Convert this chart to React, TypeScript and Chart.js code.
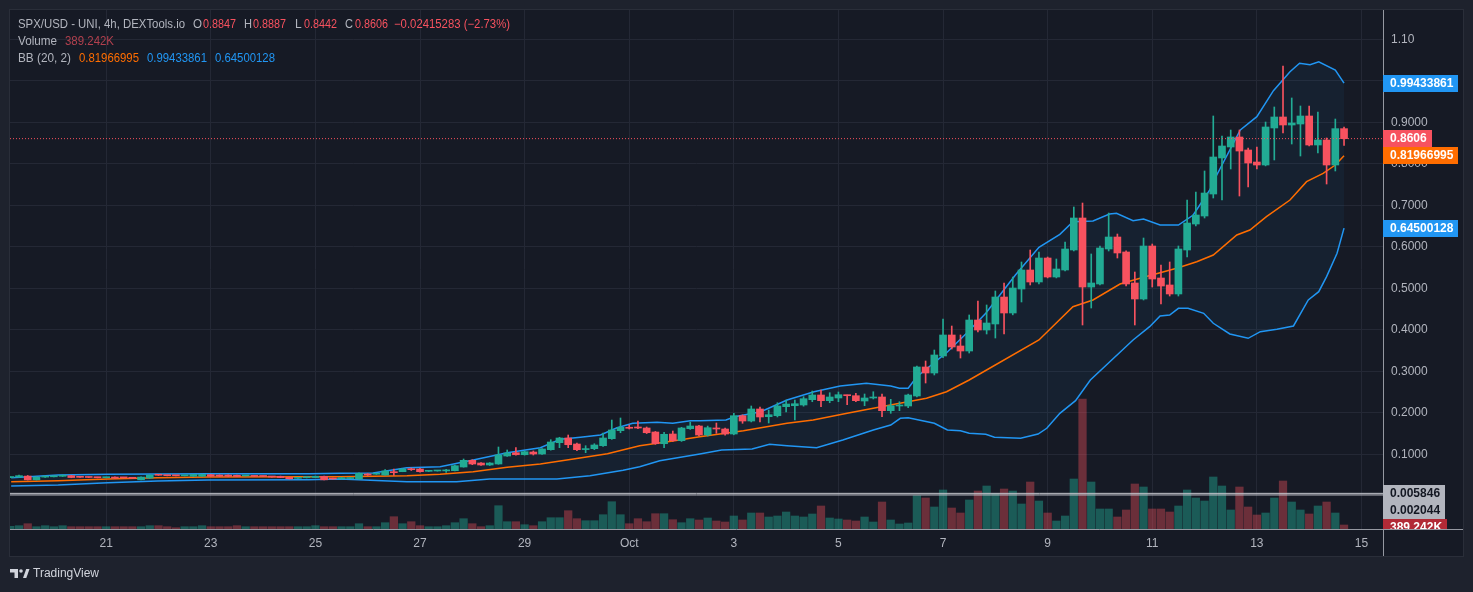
import React, { useEffect, useRef } from 'react';
import Chart from 'chart.js/auto';

// ---------- data ----------
const candleOpen = [
  0.0440,0.0453,0.0475,0.0385,0.0450,0.0458,0.0470,0.0485,0.0450,0.0447,
  0.0442,0.0436,0.0452,0.0438,0.0430,0.0385,0.0425,0.0500,0.0490,0.0488,
  0.0482,0.0470,0.0470,0.0510,0.0500,0.0500,0.0495,0.0480,0.0475,0.0472,
  0.0460,0.0470,0.0445,0.0422,0.0435,0.0440,0.0470,0.0420,0.0410,0.0415,
  0.0405,0.0525,0.0520,0.0501,0.0573,0.0581,0.0653,0.0646,0.0590,0.0598,
  0.0600,0.0605,0.0694,0.0855,0.0790,0.0742,0.0766,0.0959,0.1039,0.0990,
  0.1055,0.1007,0.1111,0.1280,0.1393,0.1248,0.1113,0.1135,0.1207,0.1376,
  0.1569,0.1650,0.1658,0.1634,0.1537,0.1255,0.1489,0.1328,0.1617,0.1682,
  0.1465,0.1617,0.1610,0.1489,0.1930,0.1802,0.2092,0.1906,0.1930,0.2147,
  0.2171,0.2188,0.2316,0.2429,0.2292,0.2357,0.2429,0.2412,0.2284,0.2357,
  0.2381,0.2051,0.2164,0.2164,0.2405,0.3104,0.2959,0.3369,0.3875,0.3610,
  0.3489,0.4236,0.3995,0.4140,0.4790,0.4405,0.4983,0.5441,0.5152,0.5730,
  0.5272,0.5441,0.5923,0.6694,0.5031,0.5104,0.5947,0.6236,0.5875,0.5128,
  0.4742,0.6019,0.5248,0.5080,0.4863,0.5923,0.6549,0.6742,0.7272,0.8140,
  0.8405,0.8646,0.8333,0.8043,0.7971,0.8863,0.9128,0.8935,0.8959,0.9152,
  0.8453,0.8573,0.7971,0.8847,
];
const candleHigh = [
  0.0460,0.0500,0.0490,0.0455,0.0475,0.0480,0.0505,0.0490,0.0455,0.0452,
  0.0448,0.0450,0.0460,0.0442,0.0435,0.0455,0.0505,0.0505,0.0495,0.0492,
  0.0492,0.0520,0.0525,0.0515,0.0505,0.0505,0.0500,0.0492,0.0480,0.0476,
  0.0464,0.0475,0.0450,0.0436,0.0460,0.0476,0.0475,0.0425,0.0440,0.0432,
  0.0555,0.0535,0.0530,0.0630,0.0646,0.0653,0.0670,0.0660,0.0605,0.0612,
  0.0637,0.0740,0.0887,0.0870,0.0800,0.0800,0.1176,0.1104,0.1159,0.1080,
  0.1080,0.1140,0.1352,0.1410,0.1465,0.1272,0.1207,0.1255,0.1513,0.1826,
  0.1875,0.1706,0.1802,0.1658,0.1550,0.1530,0.1561,0.1650,0.1778,0.1700,
  0.1680,0.1754,0.1630,0.1988,0.1950,0.2164,0.2140,0.2067,0.2243,0.2308,
  0.2308,0.2388,0.2525,0.2549,0.2484,0.2501,0.2429,0.2470,0.2453,0.2508,
  0.2453,0.2325,0.2267,0.2450,0.3128,0.3248,0.3513,0.4260,0.4091,0.3875,
  0.4357,0.4694,0.4598,0.4935,0.5128,0.5272,0.5634,0.5923,0.5875,0.5754,
  0.5706,0.6116,0.6959,0.7055,0.5827,0.6019,0.6814,0.6308,0.5900,0.5393,
  0.6212,0.6067,0.5561,0.5634,0.6019,0.7128,0.7320,0.7827,0.9152,0.8670,
  0.8814,0.8814,0.8380,0.8405,0.9007,0.9369,1.0357,0.9586,0.9393,0.9393,
  0.9248,0.8622,0.9079,0.8887,
];
const candleLow = [
  0.0435,0.0450,0.0380,0.0380,0.0445,0.0455,0.0465,0.0435,0.0440,0.0438,
  0.0432,0.0432,0.0420,0.0428,0.0418,0.0380,0.0420,0.0490,0.0480,0.0478,
  0.0478,0.0468,0.0468,0.0468,0.0465,0.0465,0.0460,0.0476,0.0465,0.0462,
  0.0450,0.0436,0.0405,0.0418,0.0430,0.0436,0.0380,0.0400,0.0405,0.0412,
  0.0400,0.0490,0.0515,0.0500,0.0494,0.0580,0.0610,0.0570,0.0585,0.0594,
  0.0565,0.0600,0.0690,0.0750,0.0730,0.0730,0.0760,0.0950,0.0980,0.0980,
  0.0983,0.1000,0.1100,0.1159,0.1159,0.1087,0.1039,0.1111,0.1190,0.1360,
  0.1520,0.1610,0.1620,0.1500,0.1240,0.1159,0.1310,0.1310,0.1600,0.1440,
  0.1440,0.1506,0.1460,0.1470,0.1747,0.1780,0.1778,0.1754,0.1900,0.2019,
  0.1826,0.2160,0.2267,0.2147,0.2243,0.2267,0.2195,0.2267,0.2171,0.2333,
  0.1906,0.1988,0.2051,0.2123,0.2380,0.2718,0.2911,0.3330,0.3537,0.3320,
  0.3441,0.3950,0.3899,0.3802,0.3899,0.4360,0.4670,0.5080,0.5104,0.5250,
  0.5250,0.5420,0.5900,0.4116,0.4525,0.5080,0.5899,0.5730,0.5060,0.4116,
  0.4718,0.5031,0.4622,0.4814,0.4814,0.5754,0.6501,0.6694,0.7176,0.7128,
  0.7875,0.7224,0.7441,0.7875,0.7950,0.8092,0.8742,0.8477,0.8188,0.8429,
  0.8260,0.7513,0.7827,0.8442,
];
const candleClose = [
  0.0453,0.0485,0.0385,0.0450,0.0458,0.0470,0.0485,0.0440,0.0445,0.0442,
  0.0436,0.0442,0.0425,0.0432,0.0422,0.0450,0.0500,0.0495,0.0485,0.0482,
  0.0488,0.0515,0.0515,0.0470,0.0470,0.0470,0.0465,0.0487,0.0468,0.0466,
  0.0453,0.0440,0.0410,0.0430,0.0455,0.0470,0.0385,0.0405,0.0436,0.0425,
  0.0542,0.0501,0.0525,0.0598,0.0557,0.0646,0.0629,0.0581,0.0600,0.0608,
  0.0610,0.0725,0.0855,0.0766,0.0742,0.0790,0.0983,0.1031,0.0990,0.1063,
  0.1007,0.1128,0.1296,0.1393,0.1231,0.1111,0.1120,0.1224,0.1393,0.1586,
  0.1650,0.1627,0.1634,0.1520,0.1255,0.1482,0.1328,0.1634,0.1682,0.1465,
  0.1641,0.1610,0.1489,0.1930,0.1802,0.2092,0.1899,0.1954,0.2164,0.2212,
  0.2219,0.2340,0.2429,0.2292,0.2381,0.2436,0.2412,0.2292,0.2357,0.2381,
  0.2051,0.2171,0.2188,0.2429,0.3104,0.2959,0.3393,0.3875,0.3586,0.3489,
  0.4236,0.3995,0.4164,0.4790,0.4405,0.5007,0.5441,0.5152,0.5730,0.5272,
  0.5465,0.5947,0.6694,0.5031,0.5128,0.5971,0.6236,0.5851,0.5104,0.4742,
  0.6019,0.5224,0.5055,0.4863,0.5947,0.6573,0.6766,0.7296,0.8164,0.8429,
  0.8646,0.8308,0.8019,0.7971,0.8887,0.9128,0.8935,0.8983,0.9152,0.8453,
  0.8573,0.7971,0.8847,0.8606,
];
// volume in thousands
const volumeK = [
  263,321,516,224,321,224,321,224,224,224,
  224,224,224,224,224,224,321,321,224,126,
  224,224,321,224,224,224,321,224,224,224,
  224,224,224,224,224,321,224,224,224,224,
  516,224,224,613,1197,516,710,321,224,224,
  321,613,1002,516,224,321,2267,710,710,418,
  321,710,1099,1099,1781,1002,808,808,1391,2656,
  1391,516,1002,710,1489,1489,905,613,1002,876,
  1070,778,681,1265,876,1557,1557,1168,1265,1654,
  1265,1168,1460,2238,1070,973,876,778,1168,681,
  2627,876,487,584,3240,3016,2141,3795,2043,1557,
  2822,3697,4184,3474,3892,3697,2433,4573,2724,1557,
  778,1265,4865,12649,4573,1946,1946,1168,1849,4379,
  4087,1946,1946,1654,2238,3795,3016,2724,5060,4184,
  1849,4087,2141,1362,1557,3016,4670,2627,1849,1460,
  2238,2627,1557,389.242,
];
// Bollinger bands (20, 2) read as vertices: x in candle index
const bbUpperX = [0.1,5.5,11.2,22.7,34.2,37.8,41.6,45.5,49.3,53.1,57,60.8,63.1,65.4,67.7,69.6,71.4,74.2,76,78,79.1,82.1,83.1,86.1,89.1,92.2,95.2,98.2,101,102,103,104,105.9,107.4,108.9,109.7,111.9,115.3,118,120.4,121.9,124.2,126.1,126.9,128.8,130,131.9,134,135.7,137.6,138.4,141.1,143,144.9,146.8,147.9,149.1,150.1,152,153];
const bbUpperY = [0.0436,0.0501,0.0518,0.0533,0.0533,0.0542,0.055,0.0677,0.0701,0.0863,0.1039,0.1159,0.1361,0.141,0.1465,0.1641,0.1747,0.1771,0.1747,0.181,0.181,0.1827,0.1906,0.2027,0.2308,0.2508,0.2646,0.2711,0.2646,0.259,0.259,0.287,0.3193,0.3448,0.3754,0.3916,0.4398,0.532,0.5988,0.6301,0.6605,0.6622,0.679,0.6807,0.6629,0.667,0.6525,0.6525,0.6766,0.7369,0.773,0.8814,0.9135,0.9761,1.0219,1.0422,1.0388,1.046,1.026,0.99433861];
const bbMidX = [0.1,5.5,11.2,16.9,22.7,34.2,37.8,45.5,49.3,53.1,57,60.8,64.6,68.5,72.2,76,79.1,84.1,89.1,92.1,96,99.9,105.1,107.4,110,118,121.9,124.2,127.3,130,133.8,136.1,138,140.7,142.2,144.1,146.8,148.7,150.6,152,153];
const bbMidY = [0.034,0.0364,0.0405,0.0436,0.0453,0.046,0.046,0.0484,0.0518,0.0581,0.0687,0.0766,0.0887,0.1014,0.1207,0.132,0.1424,0.1569,0.1747,0.1827,0.1988,0.2147,0.2349,0.2508,0.279,0.3754,0.4557,0.4718,0.5104,0.5265,0.5482,0.5641,0.5802,0.6284,0.6405,0.6725,0.7128,0.7569,0.7771,0.7971,0.81966995];
const bbLowX = [0.1,5.5,11.2,16.9,22.7,34.2,37.8,45.5,51.2,55,62.7,66.5,70.3,72.2,74.5,79.1,81.6,85.1,87.1,89.1,92.5,95.5,99,101,102.1,103,106,107.5,109,110,111.9,112.9,115.9,117.9,118.9,120.4,122.2,123.9,128.8,130.7,131.9,133,134,135.1,136.9,138,139.9,142,143.4,145.3,147.2,148.9,150.1,151,152.2,153];
const bbLowY = [0.0236,0.026,0.0316,0.0357,0.0381,0.0388,0.0405,0.034,0.034,0.0405,0.0405,0.0484,0.0614,0.0701,0.0846,0.1007,0.1104,0.1128,0.1241,0.1207,0.1159,0.1345,0.1586,0.1706,0.1867,0.1882,0.1747,0.1586,0.1569,0.1506,0.1482,0.141,0.1386,0.1489,0.1627,0.1988,0.2292,0.279,0.3754,0.4075,0.4333,0.4357,0.4518,0.4518,0.4398,0.4157,0.3899,0.3795,0.3954,0.4012,0.4092,0.4718,0.4918,0.528,0.5843,0.64500128];

const xTickIndex = [11, 23, 35, 47, 59, 71, 83, 95, 107, 119, 131, 143, 155];
const xTickLabels = ['21', '23', '25', '27', '29', 'Oct', '3', '5', '7', '9', '11', '13', '15'];
const yTickValues = [0.1, 0.2, 0.3, 0.4, 0.5, 0.6, 0.7, 0.8, 0.9, 1.0, 1.1];
const yTickLabels = ['0.1000', '0.2000', '0.3000', '0.4000', '0.5000', '0.6000', '0.7000', '0.8000', '0.9000', '1.0000', '1.10'];
const hLinePrices = [0.005846, 0.002044];
const hLineLabels = ['0.005846', '0.002044'];
const lastVolumeLabel = '389.242K';
const headerTitle = 'SPX/USD - UNI, 4h, DEXTools.io';
const headerChange = '\u22120.02415283 (\u22122.73%)';
const bbTitle = 'BB (20, 2)';

// ---------- layout / style ----------
const W = 1473, H = 592;
const X_MIN = -0.034, X_MAX = 157.47;
const Y_MIN = -0.08, Y_MAX = 1.1706;
const VOL_MAX = 50500;
const FONT = '"Liberation Sans", Arial, sans-serif';
const OUTER_BG = '#1e222d';
const PANE_BG = '#161a25';
const FRAME = '#2a2e39';
const GRID = '#242835';
const TEXT = '#b2b5be';
const UP = '#22ab94';
const DOWN = '#f7525f';
const VOL_UP = 'rgba(34,171,148,0.45)';
const VOL_DOWN = 'rgba(247,82,95,0.38)';
const BLUE = '#2196f3';
const ORANGE = '#ff6d00';

function labelBox(ctx: CanvasRenderingContext2D, text: string, cy: number, bg: string, fg: string) {
  ctx.font = `bold 12px ${FONT}`;
  const w = ctx.measureText(text).width;
  const h = 17;
  ctx.fillStyle = bg;
  ctx.fillRect(1383, Math.round(cy - h / 2), Math.round(w + 12), h);
  ctx.fillStyle = fg;
  ctx.textAlign = 'left';
  ctx.textBaseline = 'middle';
  ctx.fillText(text, 1390, Math.round(cy - h / 2) + h / 2 + 0.5);
}

// draws text squeezed horizontally so it spans at most maxW pixels
function fitText(ctx: CanvasRenderingContext2D, text: string, x: number, y: number, maxW: number, color: string) {
  const w = ctx.measureText(text).width;
  const s = Math.min(1, maxW / w);
  ctx.save();
  ctx.translate(x, y);
  ctx.scale(s, 1);
  ctx.fillStyle = color;
  ctx.fillText(text, 0, 0);
  ctx.restore();
}

const decor = {
  id: 'decor',
  beforeDraw(chart: any) {
    const ctx: CanvasRenderingContext2D = chart.ctx;
    ctx.save();
    ctx.fillStyle = OUTER_BG;
    ctx.fillRect(0, 0, W, H);
    ctx.fillStyle = PANE_BG;
    ctx.fillRect(10, 10, 1453, 546);
    ctx.strokeStyle = FRAME;
    ctx.lineWidth = 1;
    ctx.strokeRect(9.5, 9.5, 1454, 547);
    ctx.restore();
  },
  afterDraw(chart: any) {
    const ctx: CanvasRenderingContext2D = chart.ctx;
    const ys = chart.scales.y;
    const yv = chart.scales.yv;
    const n = candleClose.length;
    ctx.save();
    // axis borders
    ctx.strokeStyle = '#9598a1';
    ctx.lineWidth = 1;
    ctx.beginPath();
    ctx.moveTo(1383.5, 10);
    ctx.lineTo(1383.5, 556);
    ctx.moveTo(10, 529.5);
    ctx.lineTo(1463, 529.5);
    ctx.stroke();

    // price labels
    labelBox(ctx, bbUpperY[bbUpperY.length - 1].toFixed(8), ys.getPixelForValue(bbUpperY[bbUpperY.length - 1]), BLUE, '#ffffff');
    const lastUp = candleClose[n - 1] >= candleOpen[n - 1];
    labelBox(ctx, candleClose[n - 1].toFixed(4), ys.getPixelForValue(candleClose[n - 1]), lastUp ? UP : DOWN, '#ffffff');
    labelBox(ctx, bbMidY[bbMidY.length - 1].toFixed(8), ys.getPixelForValue(bbMidY[bbMidY.length - 1]), ORANGE, '#ffffff');
    labelBox(ctx, bbLowY[bbLowY.length - 1].toFixed(8), ys.getPixelForValue(bbLowY[bbLowY.length - 1]), BLUE, '#ffffff');
    let prev = -100;
    hLinePrices.forEach((p, k) => {
      let cy = ys.getPixelForValue(p);
      if (cy < prev + 17) cy = prev + 17;
      labelBox(ctx, hLineLabels[k], cy, '#b2b5be', '#131722');
      prev = cy;
    });
    ctx.save();
    ctx.beginPath();
    ctx.rect(1383, 10, 90, 519);
    ctx.clip();
    let vy = yv.getPixelForValue(volumeK[n - 1]);
    if (vy < prev + 17) vy = prev + 17;
    labelBox(ctx, lastVolumeLabel, vy, '#b22a36', '#ffffff');
    ctx.restore();

    // header legend
    ctx.font = `12px ${FONT}`;
    ctx.textBaseline = 'middle';
    ctx.textAlign = 'left';
    fitText(ctx, headerTitle, 18, 25, 167, TEXT);
    fitText(ctx, 'O', 193, 25, 9, TEXT); fitText(ctx, candleOpen[n - 1].toFixed(4), 203, 25, 33, DOWN);
    fitText(ctx, 'H', 244, 25, 8, TEXT); fitText(ctx, candleHigh[n - 1].toFixed(4), 253, 25, 33, DOWN);
    fitText(ctx, 'L', 295, 25, 7, TEXT); fitText(ctx, candleLow[n - 1].toFixed(4), 304, 25, 33, DOWN);
    fitText(ctx, 'C', 345, 25, 8, TEXT); fitText(ctx, candleClose[n - 1].toFixed(4), 355, 25, 33, DOWN);
    fitText(ctx, headerChange, 394, 25, 116, DOWN);
    fitText(ctx, 'Volume', 18, 42, 39, TEXT); fitText(ctx, lastVolumeLabel, 65, 42, 49, '#b2404e');
    fitText(ctx, bbTitle, 18, 59, 53, TEXT);
    fitText(ctx, bbMidY[bbMidY.length - 1].toFixed(8), 79, 59, 60, ORANGE);
    fitText(ctx, bbUpperY[bbUpperY.length - 1].toFixed(8), 147, 59, 60, BLUE);
    fitText(ctx, bbLowY[bbLowY.length - 1].toFixed(8), 215, 59, 60, BLUE);

    // TradingView logo
    ctx.fillStyle = '#d1d4dc';
    ctx.fillRect(10, 569, 8, 3.5);
    ctx.fillRect(14.5, 569, 3.5, 9);
    ctx.beginPath();
    ctx.arc(21, 571, 1.8, 0, Math.PI * 2);
    ctx.fill();
    ctx.beginPath();
    ctx.moveTo(23, 578); ctx.lineTo(26.3, 578); ctx.lineTo(29.5, 569); ctx.lineTo(26.2, 569);
    ctx.closePath();
    ctx.fill();
    ctx.font = `500 12px ${FONT}`;
    fitText(ctx, 'TradingView', 33, 574, 70, '#d1d4dc');
    ctx.restore();
  },
};

export default function App() {
  const ref = useRef<HTMLCanvasElement>(null);
  useEffect(() => {
    document.body.style.margin = '0';
    const canvas = ref.current;
    if (!canvas) return;
    const n = candleOpen.length;
    const idx = candleOpen.map((_, i) => i);
    const isUp = idx.map((i) => candleClose[i] >= candleOpen[i]);
    const cColor = isUp.map((u) => (u ? UP : DOWN));
    const vColor = isUp.map((u) => (u ? VOL_UP : VOL_DOWN));
    const hline = (p: number) => [{ x: X_MIN, y: p }, { x: X_MAX, y: p }];

    const chart = new Chart(canvas, {
      type: 'bar',
      data: {
        datasets: [
          { type: 'line', label: 'hline1', data: hline(hLinePrices[0]), borderColor: '#c3c5cc', borderWidth: 1, pointRadius: 0, order: 0 } as any,
          { type: 'line', label: 'hline2', data: hline(hLinePrices[1]), borderColor: '#c3c5cc', borderWidth: 1, pointRadius: 0, order: 0 } as any,
          { type: 'line', label: 'last', data: hline(candleClose[n - 1]), borderColor: DOWN, borderDash: [1, 2], borderWidth: 1, pointRadius: 0, order: 0 } as any,
          { type: 'bar', label: 'wick', data: idx.map((i) => ({ x: i, y: [candleLow[i], candleHigh[i]] })), backgroundColor: cColor, barThickness: 1, grouped: false, order: 1 } as any,
          { type: 'bar', label: 'body', data: idx.map((i) => ({ x: i, y: [candleOpen[i], candleClose[i]] })), backgroundColor: cColor, barThickness: 7, minBarLength: 1, grouped: false, order: 1 } as any,
          { type: 'line', label: 'BB upper', data: bbUpperX.map((x, k) => ({ x, y: bbUpperY[k] })), borderColor: BLUE, borderWidth: 1.5, pointRadius: 0, fill: false, order: 3 } as any,
          { type: 'line', label: 'BB lower', data: bbLowX.map((x, k) => ({ x, y: bbLowY[k] })), borderColor: BLUE, borderWidth: 1.5, pointRadius: 0, fill: '-1', backgroundColor: 'rgba(33,150,243,0.06)', order: 3 } as any,
          { type: 'line', label: 'BB basis', data: bbMidX.map((x, k) => ({ x, y: bbMidY[k] })), borderColor: ORANGE, borderWidth: 1.5, pointRadius: 0, fill: false, order: 2 } as any,
          { type: 'bar', label: 'Volume', yAxisID: 'yv', data: idx.map((i) => ({ x: i, y: volumeK[i] })), backgroundColor: vColor, barThickness: 7.6, grouped: false, order: 5 } as any,
        ],
      },
      options: {
        responsive: false,
        devicePixelRatio: 1,
        animation: false,
        events: [],
        layout: { padding: { left: 10, top: 10, right: 0, bottom: 0 } },
        plugins: { legend: { display: false }, tooltip: { enabled: false } },
        scales: {
          x: {
            type: 'linear',
            min: X_MIN,
            max: X_MAX,
            offset: false,
            grid: { color: GRID, drawTicks: false, offset: false },
            border: { display: false },
            afterBuildTicks: (s: any) => { s.ticks = xTickIndex.map((v) => ({ value: v })); },
            afterFit: (s: any) => { s.height = 63; s.paddingLeft = 0; s.paddingRight = 0; },
            ticks: {
              color: TEXT,
              font: { size: 12, family: FONT },
              padding: 7,
              maxRotation: 0,
              autoSkip: false,
              callback: (_v: any, i: number) => xTickLabels[i],
            },
          },
          y: {
            position: 'right',
            min: Y_MIN,
            max: Y_MAX,
            grid: { color: GRID, drawTicks: false },
            border: { display: false },
            afterBuildTicks: (s: any) => { s.ticks = yTickValues.map((v) => ({ value: v })); },
            afterFit: (s: any) => { s.width = 90; s.paddingTop = 0; s.paddingBottom = 0; },
            ticks: {
              color: TEXT,
              font: { size: 12, family: FONT },
              padding: 8,
              callback: (_v: any, i: number) => yTickLabels[i],
            },
          },
          yv: { display: false, min: 0, max: VOL_MAX, position: 'left' },
        },
      } as any,
      plugins: [decor],
    });
    return () => chart.destroy();
  }, []);

  return (
    <div style={{ position: 'absolute', left: 0, top: 0, width: W, height: H, background: OUTER_BG }}>
      <canvas ref={ref} width={W} height={H} style={{ display: 'block', width: W, height: H }} />
    </div>
  );
}
